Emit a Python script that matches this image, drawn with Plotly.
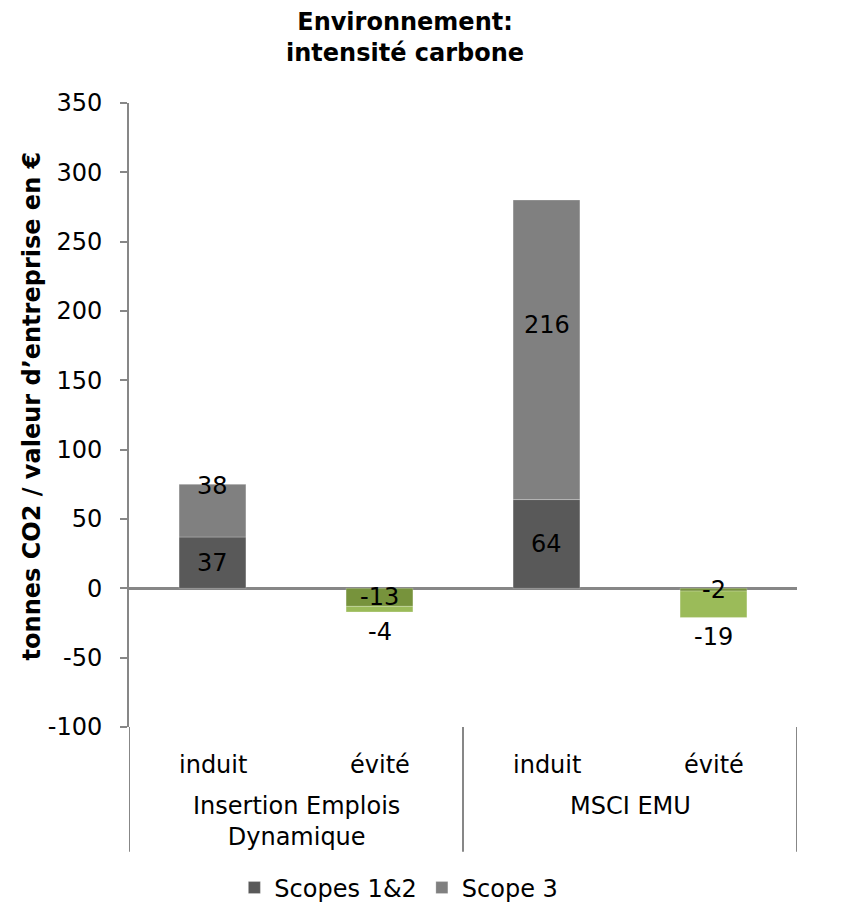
import plotly.graph_objects as go

group_names = ["Insertion Emplois<br>Dynamique", "MSCI EMU"]
subcat_names = ["induit", "évité"]
groups = ["Insertion Emplois<br>Dynamique", "Insertion Emplois<br>Dynamique", "MSCI EMU", "MSCI EMU"]
subcats = ["induit", "évité", "induit", "évité"]
scopes12 = [37, -13, 64, -2]
scope3 = [38, -4, 216, -19]
y_ticks = [-100, -50, 0, 50, 100, 150, 200, 250, 300, 350]

col12 = ["#595959", "#77933C", "#595959", "#77933C"]
col3 = ["#808080", "#9BBB59", "#808080", "#9BBB59"]

FONT = "DejaVu Sans"
FS = 24
GRAY = "#878787"

cats = [f"{g}|{s}" for g, s in zip(groups, subcats)]

fig = go.Figure()
fig.add_trace(go.Bar(
    name="Scopes 1&2", x=cats, y=scopes12,
    marker=dict(color=col12, line=dict(width=0.6, color="rgba(255,255,255,0.4)")),
    hoverinfo="skip",
))
fig.add_trace(go.Bar(
    name="Scope 3", x=cats, y=scope3,
    marker=dict(color=col3, line=dict(width=0.6, color="rgba(255,255,255,0.4)")),
    hoverinfo="skip",
))

# data labels
for c, a, b in zip(cats, scopes12, scope3):
    fig.add_annotation(x=c, y=a / 2, text=str(a), showarrow=False, yanchor="middle",
                       font=dict(size=FS, family=FONT, color="black"))
    if b >= 0:
        fig.add_annotation(x=c, y=a + b / 2, text=str(b), showarrow=False, yanchor="middle",
                           yshift=25, font=dict(size=FS, family=FONT, color="black"))
    else:
        fig.add_annotation(x=c, y=a + b, text=str(b), showarrow=False, yanchor="top",
                           yshift=-4, font=dict(size=FS, family=FONT, color="black"))

# category labels (inner and outer)
for c, s in zip(cats, subcats):
    fig.add_annotation(x=c, xref="x", y=0, yref="paper", text=s, showarrow=False,
                       yanchor="middle", yshift=-38, font=dict(size=FS, family=FONT, color="black"))
for gi, g in enumerate(group_names):
    idx = [i for i, gg in enumerate(groups) if gg == g]
    fig.add_annotation(x=sum(idx) / len(idx), xref="x", y=0, yref="paper", text=g,
                       showarrow=False, yanchor="top", yshift=-63,
                       font=dict(size=FS, family=FONT, color="black"))

# group dividers
bounds = [-0.5] + [i + 0.5 for i in range(len(groups) - 1) if groups[i] != groups[i + 1]] + [len(groups) - 0.5]
for xb in bounds:
    fig.add_shape(type="line", xref="x", yref="paper", x0=xb, x1=xb, y0=0, y1=-0.2,
                  line=dict(color=GRAY, width=2))

fig.update_layout(
    width=835, height=902,
    barmode="relative", bargap=0.6,
    plot_bgcolor="white", paper_bgcolor="white",
    margin=dict(l=121, r=46, t=95, b=183),
    font=dict(family=FONT, size=FS, color="black"),
    legend=dict(orientation="h", x=0.404, xanchor="center", xref="paper",
                y=0.0244, yanchor="middle", yref="container",
                font=dict(size=FS, family=FONT), itemwidth=30),
    showlegend=True,
)
fig.add_annotation(
    text="<b>Environnement:<br>intensité carbone</b>", xref="paper", yref="paper",
    x=0.413, y=1.1042, xanchor="center", yanchor="middle", showarrow=False,
    font=dict(size=FS, family=FONT, color="black"),
)
fig.update_yaxes(
    range=[-100, 350], tickvals=y_ticks, ticktext=[str(v) for v in y_ticks],
    showgrid=False, showline=True, linecolor=GRAY, linewidth=2,
    ticks="outside", ticklen=7, tickcolor=GRAY, tickwidth=1.5,
    ticklabelstandoff=13,
    zeroline=True, zerolinecolor=GRAY, zerolinewidth=3,
    tickfont=dict(size=FS, family=FONT),
)
fig.update_xaxes(
    showgrid=False, showline=False, ticks="", showticklabels=False,
    range=[-0.5, len(cats) - 0.5],
)
fig.add_annotation(
    text="<b>tonnes CO2 / valeur d’entreprise en €</b>", textangle=-90,
    xref="paper", yref="paper", x=-0.145, y=0.514, xanchor="center", yanchor="middle",
    showarrow=False, font=dict(size=FS, family=FONT, color="black"),
)

fig.write_html("out.html")
